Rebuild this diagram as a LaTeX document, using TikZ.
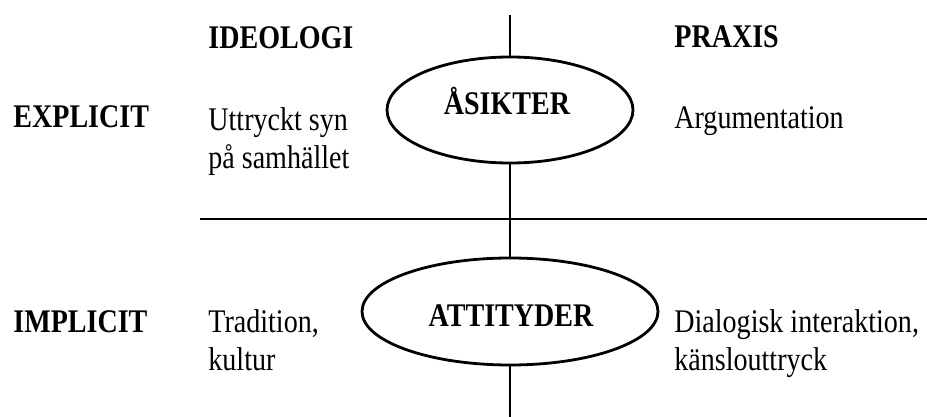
\documentclass[tikz,border=0pt]{standalone}
\usepackage{fontspec}
\setmainfont{Liberation Serif}[FakeStretch=0.85]
\usetikzlibrary{shapes.geometric}

\begin{document}
\begin{tikzpicture}[x=1pt,y=-1pt,line width=2.8pt,font=\fontsize{33}{38}\selectfont,
  txt/.style={anchor=base west,inner sep=0pt,align=left},
  head/.style={txt,font=\fontsize{33}{38}\selectfont\bfseries},
  oval/.style={draw,ellipse,inner sep=0pt}]
\path[use as bounding box] (0,0) rectangle (927,417);
\coordinate (top) at (510,15); \coordinate (bot) at (510,417);
\coordinate (hl) at (200,219); \coordinate (hr) at (927,219);
\node[oval,minimum width=246pt,minimum height=106pt] (asikter) at (510,110) {};
\node[oval,minimum width=296pt,minimum height=107pt] (attityder) at (510,311.5) {};
\draw (top)--(asikter.north) (asikter.south)--(attityder.north) (attityder.south)--(bot);
\draw (hl)--(hr);
\node[head,anchor=base] (asiktertxt) at (507,115) {ÅSIKTER};
\node[head,anchor=base] (attitydertxt) at (511,326) {ATTITYDER};
\node[head] (ideologi) at (207,49) {IDEOLOGI};
\node[head] (praxis) at (673,48) {PRAXIS};
\node[head] (explicit) at (12,128) {EXPLICIT};
\node[head] (implicit) at (12,332) {IMPLICIT};
% two-line texts: base is the last line
\node[txt] (syn) at (207,168) {Uttryckt syn\\på samhället};
\node[txt] (arg) at (673,129) {Argumentation};
\node[txt] (trad) at (207,370) {Tradition,\\kultur};
\node[txt] (dial) at (673,370) {Dialogisk interaktion,\\känslouttryck};
\end{tikzpicture}
\end{document}
